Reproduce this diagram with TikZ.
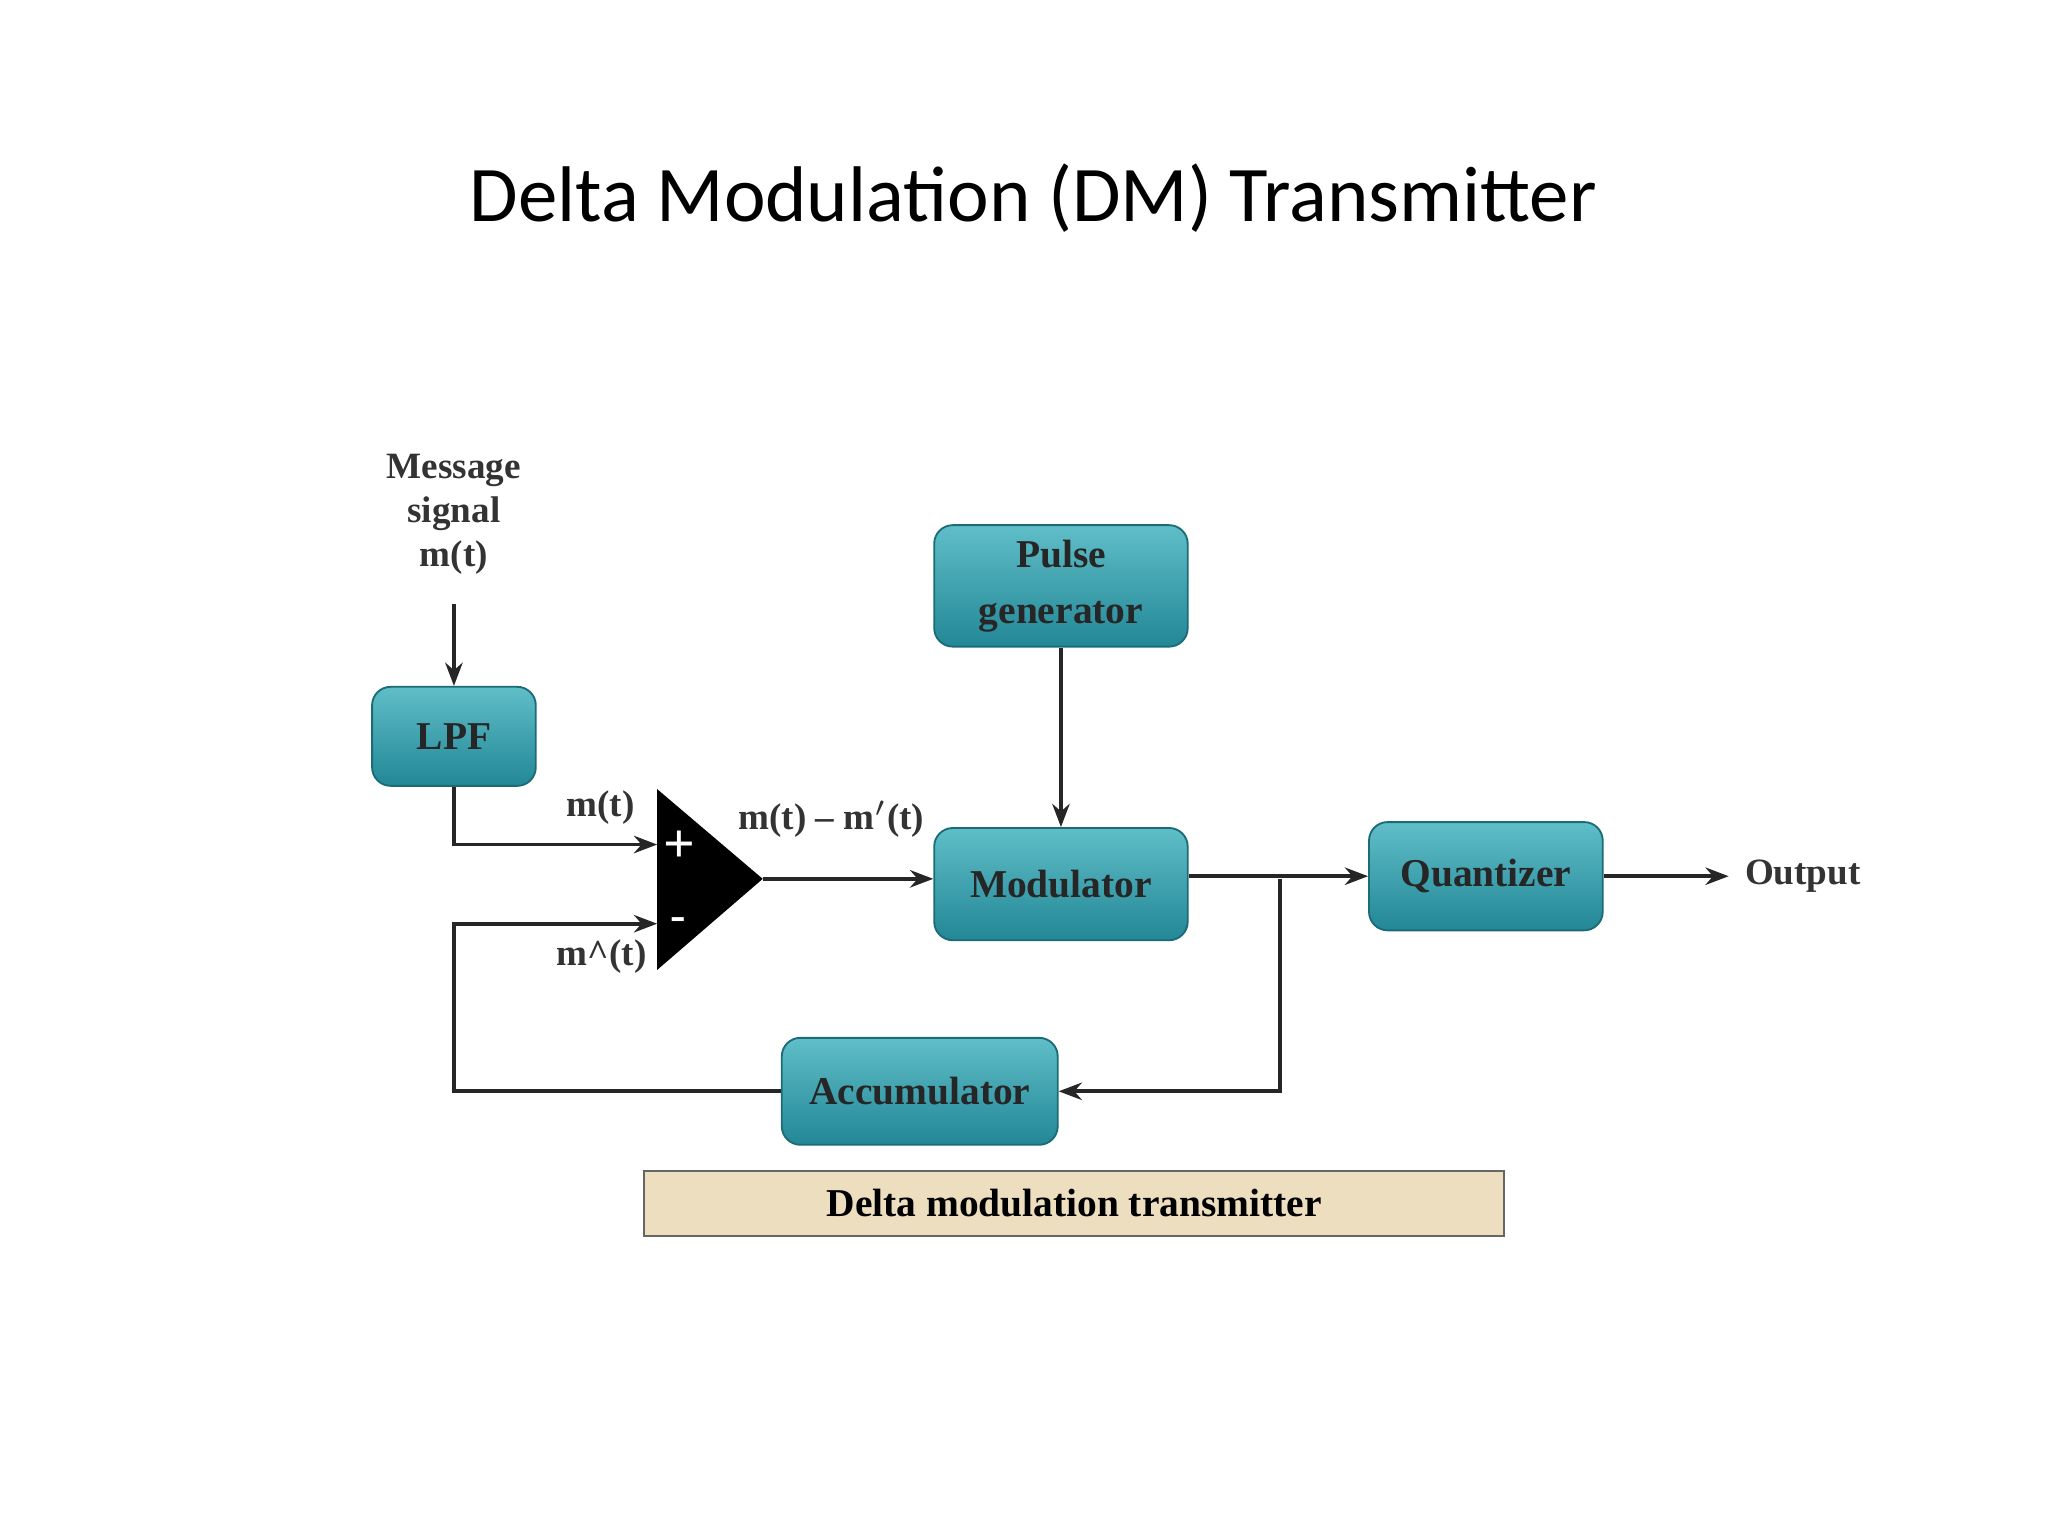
\documentclass[tikz,border=0pt]{standalone}
\usepackage{fontspec}
\setmainfont{Liberation Serif}
\newfontfamily\titlefont{Carlito}
\usetikzlibrary{arrows.meta,positioning}
\definecolor{tealtop}{RGB}{95,190,200}
\definecolor{tealbot}{RGB}{35,135,150}
\definecolor{beige}{RGB}{236,222,190}

\begin{document}
\begin{tikzpicture}[x=0.01cm,y=-0.01cm,
  block/.style={draw=tealbot!80!black,rounded corners=4pt,top color=tealtop,bottom color=tealbot,
    text=black!85,font=\fontsize{8.5}{10}\selectfont\bfseries,align=center,inner sep=0pt},
  lbl/.style={font=\fontsize{8}{9.5}\selectfont\bfseries,text=black!80,align=center},
  wire/.style={thick,black!85},
  arr/.style={wire,-{Stealth[length=5pt]}}]

\useasboundingbox (0,0) rectangle (1552,1164);

% title:
\node[font=\titlefont\fontsize{17}{20}\selectfont] (title) at (783,150) {Delta Modulation (DM) Transmitter};

% blocks:
\node[block,minimum width=1.24cm,minimum height=0.75cm] (lpf) at (344,558) {LPF};
\node[block,minimum width=1.92cm,minimum height=0.92cm] (pulse) at (804,444) {Pulse\\[2pt]generator};
\node[block,minimum width=1.92cm,minimum height=0.85cm] (mod) at (804,670) {Modulator};
\node[block,minimum width=1.77cm,minimum height=0.82cm] (quant) at (1126,664) {Quantizer};
\node[block,minimum width=2.09cm,minimum height=0.81cm] (acc) at (697,827) {Accumulator};

% summer:
\coordinate (tA) at (498,598);
\coordinate (tB) at (498,735);
\coordinate (tip) at (578,666);
\fill[black] (tA) -- (tB) -- (tip) -- cycle;
\node[text=white,font=\bfseries\large] (plus) at (515,642) {+};
\node[text=white,font=\bfseries] (minus) at (514,700) {-};
\coordinate (inP) at (498,640);
\coordinate (inM) at (498,700);

% labels:
\node[lbl] (msg) at (344,390) {Message\\signal\\m(t)};
\node[lbl] (lm) at (455,612) {m(t)};
\node[lbl] (lmh) at (456,725) {m\^{}(t)};
\node[lbl] (ldiff) at (630,621) {m(t) -- m$'$(t)};
\node[lbl,anchor=west] (out) at (1310,664) {Output};

% connectors:
\draw[arr] (msg.south) ++(0,10) coordinate (msgb) -- (lpf.north);
\draw[arr] (lpf.south) |- (inP);
\draw[arr] (acc.west) -| (344,700) -- (inM);
\draw[arr] (tip) -- (tip -| mod.west);
\draw[arr] (pulse.south) -- (mod.north);
\draw[arr] (mod.east |- quant) -- (quant.west);
\coordinate (br) at (970,666);
\draw[arr] (br) |- (acc.east);
\draw[arr] (quant.east) -- (out.west);

% caption:
\node[draw=black!60,fill=beige,minimum width=6.51cm,minimum height=0.49cm,
  font=\fontsize{8.5}{10}\selectfont\bfseries] (cap) at (814,912) {Delta modulation transmitter};

\end{tikzpicture}
\end{document}
